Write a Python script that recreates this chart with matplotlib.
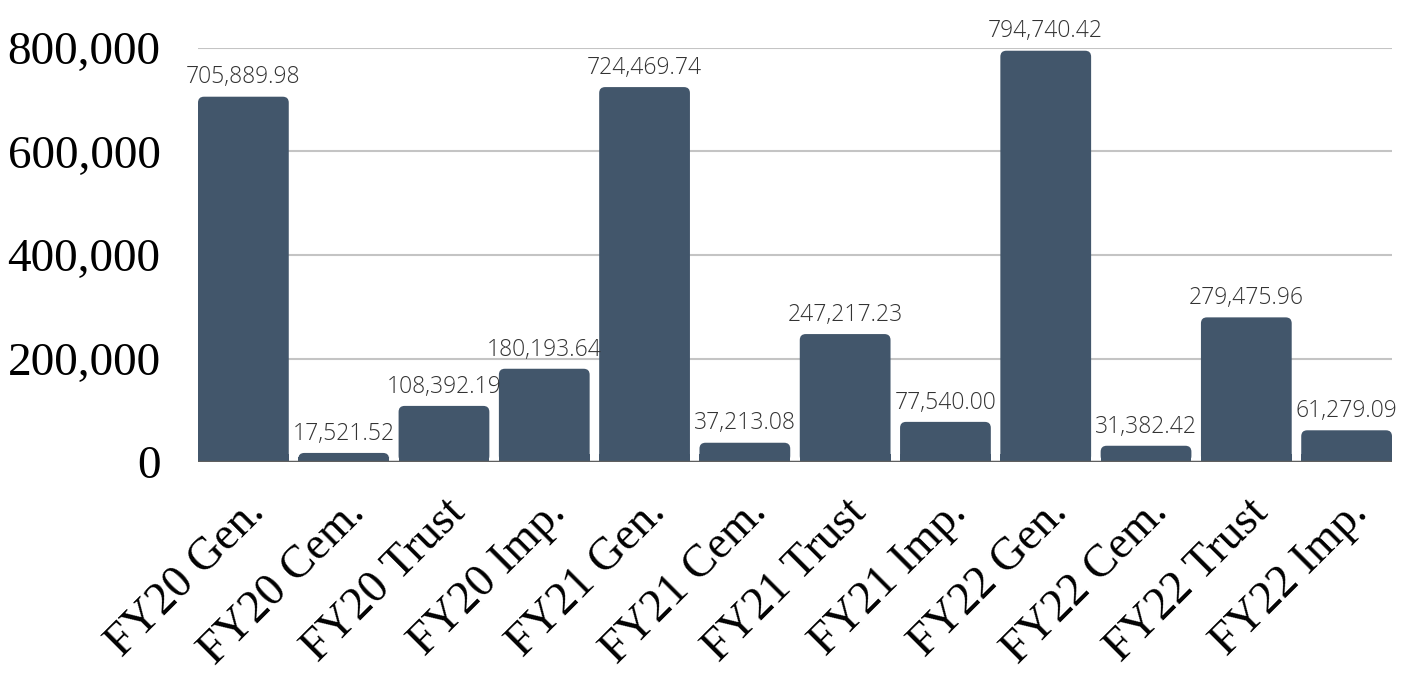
import matplotlib
matplotlib.use("Agg")
import matplotlib.pyplot as plt
from matplotlib.patches import FancyBboxPatch
from matplotlib.ticker import FuncFormatter

categories = ["FY20 Gen.", "FY20 Cem.", "FY20 Trust", "FY20 Imp.",
              "FY21 Gen.", "FY21 Cem.", "FY21 Trust", "FY21 Imp.",
              "FY22 Gen.", "FY22 Cem.", "FY22 Trust", "FY22 Imp."]
values = [705889.98, 17521.52, 108392.19, 180193.64,
          724469.74, 37213.08, 247217.23, 77540.00,
          794740.42, 31382.42, 279475.96, 61279.09]
yticks = [0, 200000, 400000, 600000, 800000]

bar_color = "#42566b"
bw = 0.905

fig = plt.figure(figsize=(14.21, 6.8), dpi=100)
ax = fig.add_axes([198/1421, 1-462/680, (1392-198)/1421, (462-48)/680])
ax.set_xlim(-bw/2, len(values) - 1 + bw/2)
ax.set_ylim(0, 800000)

# px -> data scale, used for the rounded tops
px_x = (len(values) - 1 + bw) / (1392 - 198)
px_y = 800000 / (462 - 48)
r = 6 * px_x

bars = ax.bar(range(len(values)), values, width=bw, color=bar_color, zorder=3)
for b in bars:
    b.set_visible(False)
    x, w, h = b.get_x(), b.get_width(), b.get_height()
    ax.add_patch(FancyBboxPatch((x, 0), w, h, boxstyle=f"round,pad=0,rounding_size={r}",
                                mutation_aspect=px_y / px_x, facecolor=bar_color,
                                edgecolor="none", zorder=3))
    ax.add_patch(plt.Rectangle((x, 0), w, min(h / 2, 8 * px_y), facecolor=bar_color,
                               edgecolor="none", zorder=3))

for i, v in enumerate(values):
    ax.text(i, v + 14000, f"{v:,.2f}", ha="center", va="bottom",
            fontsize=16.5, family="Open Sans", fontweight="light", color="#333333",
            clip_on=False, zorder=4)

ax.set_yticks(yticks)
ax.yaxis.set_major_formatter(FuncFormatter(lambda v, p: f"{int(v):,}"))
ax.grid(axis="y", color="#c4c4c4", linewidth=1.5, zorder=0)
ax.axhline(0, color="#5f5f5f", linewidth=2.5, zorder=5)
for s in ax.spines.values():
    s.set_visible(False)
ax.tick_params(axis="both", length=0)
ax.tick_params(axis="y", pad=27)
ax.tick_params(axis="x", pad=21)

ax.set_xticks(range(len(categories)))
ax.set_xticklabels(categories, rotation=45, ha="right", va="top",
                   rotation_mode="anchor", fontsize=33, family="Liberation Serif")
for lbl in ax.get_yticklabels():
    lbl.set_fontsize(34)
    lbl.set_family("Liberation Serif")

fig.savefig("out.png", dpi=100)
